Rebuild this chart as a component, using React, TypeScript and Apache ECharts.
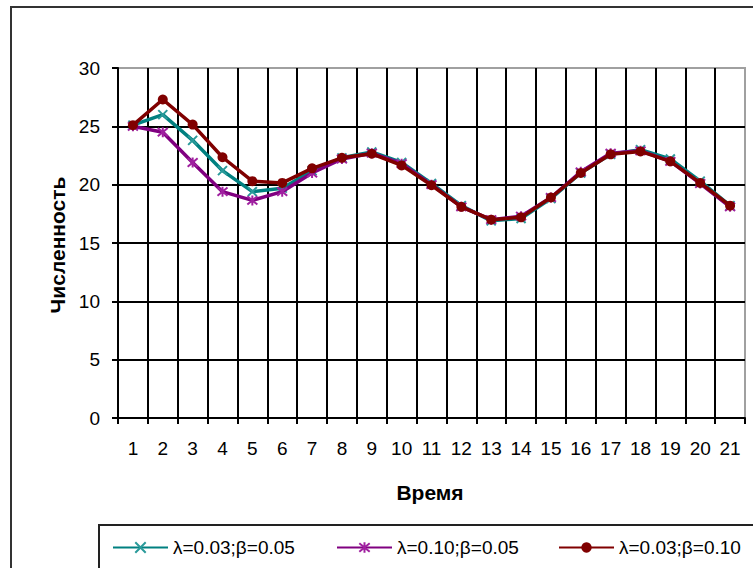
import React, { useEffect, useRef } from "react";
import * as echarts from "echarts";

const categories = ["1","2","3","4","5","6","7","8","9","10","11","12","13","14","15","16","17","18","19","20","21"];
const seriesNames = ["λ=0.03;β=0.05", "λ=0.10;β=0.05", "λ=0.03;β=0.10"];
const tealValues = [25.1, 26.0, 23.8, 21.2, 19.4, 19.7, 21.2, 22.3, 22.8, 21.9, 20.1, 18.2, 16.9, 17.1, 18.8, 21.0, 22.6, 23.0, 22.2, 20.3, 18.2];
const purpleValues = [25.0, 24.5, 21.9, 19.4, 18.65, 19.4, 21.0, 22.2, 22.7, 21.8, 20.0, 18.1, 17.0, 17.3, 18.9, 21.1, 22.7, 22.9, 22.0, 20.1, 18.1];
const redValues = [25.1, 27.3, 25.15, 22.35, 20.3, 20.15, 21.4, 22.3, 22.65, 21.65, 19.95, 18.1, 17.0, 17.2, 18.9, 21.0, 22.6, 22.85, 22.0, 20.15, 18.2];
const yTicks = { min: 0, max: 30, interval: 5 };
const xTitle = "Время";
const yTitle = "Численность";

const FONT = "'Liberation Sans', Arial, sans-serif";
const X_SYMBOL = "path://M0,0L10,10M10,0L0,10";
const STAR_SYMBOL = "path://M0,0L10,10M10,0L0,10M5,-1L5,11";

export default function App() {
  const ref = useRef<HTMLDivElement>(null);
  useEffect(() => {
    if (!ref.current) return;
    const chart = echarts.init(ref.current, null, { renderer: "svg" });
    const legendBase = {
      orient: "horizontal",
      top: 538,
      padding: 0,
      itemWidth: 55,
      itemHeight: 13,
      itemGap: 0,
      textStyle: { fontFamily: FONT, fontSize: 19, color: "#000", padding: [0, 0, 0, 0] },
    };
    chart.setOption({
      animation: false,
      backgroundColor: "#fff",
      textStyle: { fontFamily: FONT },
      grid: {
        left: 118,
        right: 8,
        top: 68,
        bottom: 150,
        show: true,
        borderColor: "#a0a0a0",
        borderWidth: 2,
        backgroundColor: "transparent",
      },
      legend: [
        { ...legendBase, left: 112, data: [seriesNames[0]] },
        { ...legendBase, left: 336, data: [seriesNames[1]] },
        { ...legendBase, left: 558, data: [seriesNames[2]] },
      ],
      xAxis: {
        type: "category",
        data: categories,
        boundaryGap: true,
        axisLine: { show: true, lineStyle: { color: "#000", width: 2 } },
        axisTick: { show: true, interval: 0, length: 6, lineStyle: { color: "#000", width: 2 } },
        axisLabel: { interval: 0, color: "#000", fontSize: 19, fontFamily: FONT, margin: 21 },
        splitLine: { show: true, interval: 0, showMinLine: false, showMaxLine: false, lineStyle: { color: "#000", width: 2 } },
      },
      yAxis: {
        type: "value",
        min: yTicks.min,
        max: yTicks.max,
        interval: yTicks.interval,
        axisLine: { show: true, lineStyle: { color: "#000", width: 2 } },
        axisTick: { show: true, length: 6, lineStyle: { color: "#000", width: 2 } },
        axisLabel: { color: "#000", fontSize: 19, fontFamily: FONT, margin: 18 },
        splitLine: { show: true, showMinLine: false, showMaxLine: false, lineStyle: { color: "#000", width: 2 } },
      },
      graphic: [
        {
          type: "rect",
          shape: { x: 11, y: 7, width: 800, height: 700 },
          style: { fill: "none", stroke: "#333", lineWidth: 2 },
          silent: true,
        },
        {
          type: "rect",
          shape: { x: 99, y: 525, width: 700, height: 100 },
          style: { fill: "none", stroke: "#222", lineWidth: 2 },
          silent: true,
        },
        {
          type: "text",
          x: 430,
          y: 492,
          style: { text: xTitle, fontFamily: FONT, fontSize: 21, fontWeight: "bold", fill: "#000", align: "center", verticalAlign: "middle" },
        },
        {
          type: "text",
          x: 57,
          y: 245,
          rotation: Math.PI / 2,
          style: { text: yTitle, fontFamily: FONT, fontSize: 21, fontWeight: "bold", fill: "#000", align: "center", verticalAlign: "middle" },
        },
      ],
      series: [
        {
          name: seriesNames[0],
          type: "line",
          data: tealValues,
          symbol: X_SYMBOL,
          symbolSize: 9,
          lineStyle: { color: "#008080", width: 3.5 },
          itemStyle: { color: "#2a9a9a", borderColor: "#2a9a9a", borderWidth: 2 },
          z: 2,
        },
        {
          name: seriesNames[1],
          type: "line",
          data: purpleValues,
          symbol: STAR_SYMBOL,
          symbolSize: 10,
          lineStyle: { color: "#800080", width: 3.5 },
          itemStyle: { color: "#a020a0", borderColor: "#a020a0", borderWidth: 2 },
          z: 3,
        },
        {
          name: seriesNames[2],
          type: "line",
          data: redValues,
          symbol: "circle",
          symbolSize: 10,
          lineStyle: { color: "#800000", width: 3.5 },
          itemStyle: { color: "#800000", borderColor: "#800000", borderWidth: 0 },
          z: 4,
        },
      ],
    });
    return () => chart.dispose();
  }, []);
  return (
    <div
      ref={ref}
      style={{ position: "fixed", left: 0, top: 0, width: 753, height: 568, background: "#fff" }}
    />
  );
}
